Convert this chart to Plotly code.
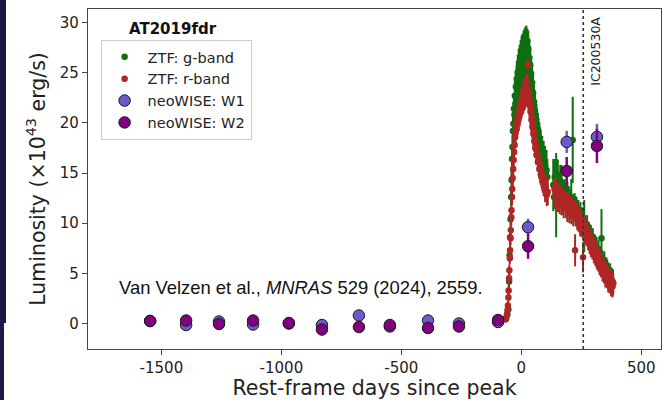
import plotly.graph_objects as go

# ---------------- data ----------------
g_days = [-63, -58, -54, -51, -49, -47, -45, -43, -41, -39, -37, -35, -33, -31, -29, -27, -25, -23, -21, -19,
          -17, -15, -13, -11, -9, -7, -5, -3, -1, 1, 3, 5, 7, 9, 11, 13, 15, 17, 19, 21,
          23, 25, 27, 29, 31, 33, 35, 37, 39, 41, 43, 45, 47, 49, 51, 53, 55, 57, 60, 63,
          66, 69, 72, 75, 78, 81, 84, 87, 90, 93, 96, 99, 102, 105, 108,
          133, 136, 139, 142, 145, 148, 152, 156, 162, 168, 174, 180, 186, 192, 198, 204, 208, 214, 218, 222,
          226, 230, 234, 238, 242, 246, 250, 254, 258, 262, 266, 270, 274, 278, 282, 286, 290, 294, 298, 302,
          306, 310, 314, 318, 322, 326, 330, 334, 338, 342, 346, 350, 354, 358, 362, 366, 370, 374, 378, 382]
g_lum = [0.5, 0.9, 1.4, 4.2, 6.8, 8.6, 10.4, 12.6, 14.3, 16.4, 17.6, 19.2, 19.9, 21.4, 20.8, 22.7, 21.9, 23.6, 22.8, 24.4,
         23.3, 25.0, 23.9, 25.5, 24.3, 25.9, 24.8, 26.3, 25.1, 26.7, 25.4, 26.9, 25.7, 27.2, 26.0, 27.4, 26.2, 27.6, 26.4, 27.8,
         26.6, 28.1, 26.9, 27.3, 25.9, 26.5, 25.2, 25.8, 24.4, 24.9, 23.5, 24.0, 22.6, 23.0, 21.7, 22.1, 20.8, 21.2, 19.9, 20.3,
         19.0, 19.4, 18.2, 18.5, 17.4, 17.7, 16.7, 17.0, 16.1, 16.4, 15.5, 15.8, 15.0, 15.3, 14.6,
         13.8, 12.6, 14.6, 13.4, 12.8, 14.9, 14.1, 13.2, 14.2, 13.3, 12.7, 13.0, 12.5, 12.1, 12.4, 11.9, 12.6, 18.3, 11.5, 11.7,
         11.2, 11.4, 10.9, 11.0, 10.5, 10.7, 10.2, 10.4, 9.8, 9.7, 9.5, 9.2, 9.4, 8.9, 8.9, 8.4, 8.5, 8.0, 8.1, 7.6,
         7.7, 7.2, 7.3, 6.8, 6.9, 6.4, 6.5, 8.5, 6.0, 5.7, 5.8, 5.3, 5.4, 5.0, 4.8, 4.6, 4.6, 4.3, 4.3, 4.1]
g_err = [0.3, 0.3, 0.4, 0.6, 0.7, 0.8, 0.8, 0.9, 1.0, 1.1, 1.2, 1.3, 1.4, 1.5, 1.5, 1.6, 1.6, 1.7, 1.7, 1.8,
         1.7, 1.8, 1.8, 1.9, 1.8, 1.9, 1.8, 2.0, 1.9, 2.0, 1.9, 2.0, 1.9, 2.0, 1.9, 2.0, 1.9, 2.0, 2.0, 1.9,
         2.0, 1.3, 2.0, 1.9, 1.9, 1.9, 1.8, 1.9, 1.8, 1.8, 1.7, 1.8, 1.7, 1.7, 1.6, 1.7, 1.6, 1.6, 1.5, 1.6,
         1.5, 1.6, 1.5, 1.6, 1.5, 1.6, 1.5, 1.7, 1.5, 1.8, 1.6, 1.9, 1.7, 2.0, 1.8,
         2.6, 1.2, 1.8, 1.3, 4.2, 1.5, 2.2, 1.9, 1.6, 2.5, 1.6, 1.4, 1.5, 2.0, 1.3, 1.5, 1.8, 4.3, 1.4, 1.3,
         1.5, 1.2, 1.4, 1.3, 1.2, 1.4, 1.3, 1.2, 1.5, 2.6, 1.3, 1.2, 1.4, 1.3, 1.2, 1.5, 1.3, 1.2, 1.4, 1.3,
         1.2, 1.5, 1.3, 1.2, 1.4, 1.3, 1.2, 2.9, 1.3, 1.2, 1.4, 1.3, 1.2, 1.4, 1.3, 1.2, 1.4, 1.3, 1.2, 1.3]

r_days = [-66, -63, -60, -58, -56, -54, -53, -51, -50, -48, -47, -45, -44, -42, -41, -39, -38, -36, -34, -32,
          -30, -28, -26, -24, -22, -20, -18, -16, -14, -12, -10, -8, -6, -4, -2, 0, 2, 4, 6, 8,
          10, 12, 14, 16, 18, 20, 22, 24, 26, 28, 30, 32, 34, 36, 38, 40, 42, 44, 46, 48,
          50, 52, 54, 56, 58, 60, 63, 66, 69, 72, 75, 78, 81, 84, 87, 90, 93, 96, 99, 102, 106, 110,
          138, 141, 144, 147, 150, 153, 156, 160, 164, 168, 172, 176, 180, 184, 188, 192, 196, 200, 204, 208,
          212, 216, 220, 224, 227, 230, 233, 236, 239, 242, 245, 248, 251, 254, 257, 260, 263, 266, 269, 272,
          275, 278, 281, 284, 287, 290, 293, 296, 299, 302, 305, 308, 311, 314, 317, 320, 323, 326, 329, 332,
          335, 338, 341, 344, 347, 350, 353, 356, 359, 362, 365, 368, 371, 374, 377, 380, 383]
r_lum = [0.4, 0.6, 0.9, 1.3, 1.8, 2.6, 3.3, 4.5, 5.3, 6.5, 7.3, 8.5, 9.3, 10.6, 11.3, 12.6, 13.4, 14.5, 15.4, 16.3,
         17.1, 17.8, 18.6, 19.1, 19.7, 19.4, 20.2, 19.9, 20.7, 20.4, 21.2, 20.8, 21.6, 21.2, 22.0, 21.6, 22.4, 21.9, 22.7, 22.2,
         23.0, 22.5, 23.2, 22.7, 23.4, 22.9, 23.6, 23.0, 25.8, 23.3, 22.6, 22.9, 21.8, 22.2, 21.1, 21.4, 20.3, 20.6, 19.6, 19.9,
         18.9, 19.1, 18.2, 18.4, 17.5, 17.8, 16.8, 17.0, 16.1, 16.3, 15.4, 15.6, 14.8, 15.0, 14.2, 14.5, 13.7, 13.9, 13.2, 13.5, 12.8, 13.1,
         13.4, 12.7, 13.6, 12.4, 13.1, 12.2, 12.9, 12.1, 12.7, 11.9, 12.5, 11.7, 12.3, 11.6, 12.1, 11.4, 11.9, 11.2, 11.7, 11.0,
         11.5, 10.9, 11.3, 7.3, 10.8, 11.1, 10.5, 10.8, 10.2, 10.6, 9.9, 10.3, 9.7, 10.0, 6.6, 9.4, 9.7, 9.1, 9.4, 8.8,
         9.1, 8.5, 8.8, 8.1, 8.4, 7.8, 8.1, 7.5, 7.8, 7.2, 7.5, 6.9, 7.2, 6.6, 6.9, 6.3, 6.6, 6.0, 6.3, 5.7,
         6.0, 5.4, 5.7, 5.1, 5.4, 4.8, 5.1, 4.6, 4.8, 4.3, 4.6, 4.1, 4.4, 3.9, 4.2, 3.7, 4.0]
r_err = [0.2, 0.3, 0.3, 0.4, 0.4, 0.5, 0.5, 0.6, 0.6, 0.6, 0.7, 0.7, 0.7, 0.8, 0.8, 0.8, 0.9, 0.9, 0.9, 1.0,
         1.0, 1.0, 1.1, 1.1, 1.1, 1.1, 1.1, 1.1, 1.2, 1.2, 1.2, 1.2, 1.2, 1.2, 1.3, 1.2, 1.3, 1.2, 1.3, 1.3,
         1.3, 1.3, 1.3, 1.3, 1.3, 1.3, 1.3, 1.3, 0.6, 1.3, 1.3, 1.3, 1.2, 1.3, 1.2, 1.2, 1.2, 1.2, 1.1, 1.2,
         1.1, 1.1, 1.1, 1.1, 1.0, 1.1, 1.0, 1.1, 1.0, 1.1, 1.0, 1.1, 1.0, 1.1, 1.0, 1.1, 1.0, 1.2, 1.1, 1.3, 1.1, 1.3,
         1.0, 1.1, 1.0, 1.2, 1.0, 1.1, 1.0, 1.2, 1.0, 1.1, 1.0, 1.2, 1.0, 1.1, 1.0, 1.1, 1.0, 1.2, 1.0, 1.1,
         1.0, 1.2, 1.0, 1.6, 1.1, 1.0, 1.2, 1.0, 1.1, 1.0, 1.2, 1.0, 1.1, 1.0, 1.5, 1.1, 1.0, 1.2, 1.0, 1.1,
         1.0, 1.2, 1.0, 1.1, 1.0, 1.2, 1.0, 1.1, 1.0, 1.2, 1.0, 1.1, 1.0, 1.2, 1.0, 1.1, 1.0, 1.2, 1.0, 1.1,
         1.0, 1.2, 1.0, 1.1, 1.0, 1.2, 1.0, 1.1, 1.0, 1.2, 1.0, 1.1, 1.0, 1.2, 1.0, 1.1, 1.0]

w_days = [-1547, -1397, -1260, -1118, -969, -831, -677, -548, -389, -260, -97, 28, 189, 315]
w1_lum = [0.25, -0.15, 0.2, -0.1, 0.0, -0.15, 0.8, -0.3, 0.3, 0.0, 0.15, 9.6, 18.1, 18.6]
w1_err = [0.15, 0.15, 0.15, 0.15, 0.15, 0.15, 0.2, 0.15, 0.15, 0.15, 0.2, 0.85, 1.1, 1.3]
w2_lum = [0.25, 0.3, -0.05, 0.3, 0.05, -0.6, -0.35, -0.15, -0.45, -0.3, 0.35, 7.7, 15.2, 17.7]
w2_err = [0.2, 0.2, 0.2, 0.2, 0.2, 0.2, 0.2, 0.2, 0.2, 0.2, 0.25, 1.25, 1.4, 1.7]

neutrino_day = 258
neutrino_name = "IC200530A"
source_name = "AT2019fdr"
citation = "Van Velzen et al., <i>MNRAS</i> 529 (2024), 2559."

x_range = [-1806, 582]
y_range = [-2.54, 31.35]
x_ticks = [-1500, -1000, -500, 0, 500]
y_ticks = [0, 5, 10, 15, 20, 25, 30]

# ---------------- figure ----------------
FONT = "DejaVu Sans"
W, H = 663, 400
ML, MR, MT, MB = 88, 2, 9, 51

fig = go.Figure()

fig.add_trace(go.Scatter(
    x=g_days, y=g_lum, mode="markers", name="ZTF: g-band",
    marker=dict(color="#0f6f0f", size=6.5),
    error_y=dict(type="data", array=g_err, color="#0f6f0f", thickness=2, width=0),
))
fig.add_trace(go.Scatter(
    x=r_days, y=r_lum, mode="markers", name="ZTF: r-band",
    marker=dict(color="#b02525", size=6.5),
    error_y=dict(type="data", array=r_err, color="#b02525", thickness=2, width=0),
))
fig.add_trace(go.Scatter(
    x=w_days, y=w1_lum, mode="markers", name="neoWISE: W1",
    marker=dict(color="#6a5acd", size=11.5, line=dict(color="#1a1a1a", width=1)),
    error_y=dict(type="data", array=w1_err, color="#6a5acd", thickness=2.5, width=0),
))
fig.add_trace(go.Scatter(
    x=w_days, y=w2_lum, mode="markers", name="neoWISE: W2",
    marker=dict(color="#800080", size=11.5, line=dict(color="#1a1a1a", width=1)),
    error_y=dict(type="data", array=w2_err, color="#800080", thickness=2.5, width=0),
))

# neutrino arrival time
fig.add_shape(type="line", xref="x", yref="paper", x0=neutrino_day, x1=neutrino_day, y0=0, y1=1,
              line=dict(color="#333333", width=1.6, dash="dot"))
fig.add_annotation(x=neutrino_day, xref="x", y=1, yref="paper", xshift=12, yshift=-6,
                   text=neutrino_name, textangle=-90, showarrow=False,
                   xanchor="center", yanchor="top", font=dict(family=FONT, size=12.5, color="#222"))

fig.add_annotation(x=0.149, xref="paper", y=0.94, yref="paper", text="<b>" + source_name + "</b>",
                   showarrow=False, xanchor="center", yanchor="middle",
                   font=dict(family=FONT, size=15, color="#111"))
fig.add_annotation(x=0.051, xref="paper", y=0.18, yref="paper", text=citation,
                   showarrow=False, xanchor="left", yanchor="middle",
                   font=dict(family="Liberation Sans", size=18.4, color="#111"))

# dark strip at the left edge of the slide
pw = W - ML - MR
ph = H - MT - MB
fig.add_shape(type="rect", xref="paper", yref="paper", layer="below",
              x0=-ML / pw, x1=(6 - ML) / pw, y0=(MB - 25) / ph, y1=(H - MT) / ph,
              fillcolor="#1f1649", line=dict(width=0))
fig.add_shape(type="rect", xref="paper", yref="paper", layer="below",
              x0=-ML / pw, x1=(4 - ML) / pw, y0=-MB / ph, y1=(MB - 25) / ph,
              fillcolor="#1f1649", line=dict(width=0))

axis_common = dict(showline=True, linecolor="#444", linewidth=1.3, mirror=True, showgrid=False,
                   zeroline=False, ticks="outside", ticklen=5, tickwidth=1.2, tickcolor="#444",
                   tickfont=dict(family=FONT, size=15, color="#222"))

fig.update_layout(
    width=W, height=H,
    margin=dict(l=ML, r=MR, t=MT, b=MB),
    paper_bgcolor="white", plot_bgcolor="white",
    font=dict(family=FONT, color="#222"),
    xaxis=dict(range=x_range, tickvals=x_ticks, ticktext=[str(v) for v in x_ticks],
               title=dict(text="Rest-frame days since peak", font=dict(family=FONT, size=20.5), standoff=2),
               **axis_common),
    yaxis=dict(range=y_range, tickvals=y_ticks,
               title=dict(text="Luminosity (×10<sup>43</sup> erg/s)", font=dict(family=FONT, size=20.5), standoff=8),
               **axis_common),
    legend=dict(x=0.022, y=0.909, xanchor="left", yanchor="top", itemwidth=36,
                bgcolor="rgba(255,255,255,0.85)", bordercolor="#cccccc", borderwidth=1,
                font=dict(family=FONT, size=14.5, color="#222")),
    showlegend=True,
)

fig.write_html("out.html")
